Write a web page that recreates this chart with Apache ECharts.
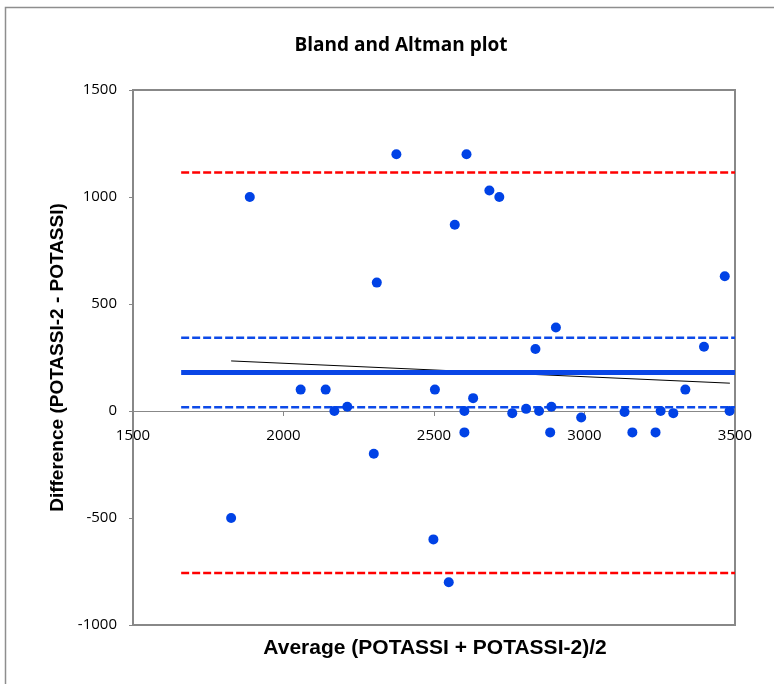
<!DOCTYPE html>
<html>
<head>
<meta charset="utf-8">
<script src="https://cdn.jsdelivr.net/npm/echarts@6/dist/echarts.min.js"></script>
<style>
  html, body { margin: 0; padding: 0; background: #ffffff; }
  #chart { width: 774px; height: 684px; }
</style>
</head>
<body>
<div id="chart"></div>
<script>
// Bland–Altman agreement between POTASSI and POTASSI-2
const averages = [1826, 1888, 2057, 2140, 2169, 2212, 2300, 2310, 2375, 2498, 2503, 2549,
                  2569, 2601, 2601, 2608, 2630, 2684, 2717, 2760, 2806, 2837, 2849, 2886,
                  2890, 2905, 2989, 3133, 3159, 3236, 3253, 3295, 3335, 3397, 3466, 3482];
const differences = [-500, 1000, 100, 100, 0, 20, -200, 600, 1200, -600, 100, -800,
                     870, 0, -100, 1200, 60, 1030, 1000, -10, 10, 290, 0, -100,
                     20, 390, -30, -5, -100, -100, 0, -10, 100, 300, 630, 0];

// Summary lines (x extent, then y level)
const refSpan = [1660, 3500];
const meanDiff = 180;
const meanCI = [17, 342];
const limitsOfAgreement = [-757, 1115];
// Trend of difference against average
const trendX = [1826, 3483];
const trendY = [234, 130];

const xTicks = { min: 1500, max: 3500, step: 500 };
const yTicks = { min: -1000, max: 1500, step: 500 };

const points = averages.map((a, i) => [a, differences[i]]);
const hLine = (y) => [[refSpan[0], y], [refSpan[1], y]];

const tickFont = '"Open Sans", sans-serif';
const nameFont = '"Liberation Sans", Arial, sans-serif';
const axisGrey = '#888888';

const gridTop = 90, gridHeight = 535;
// The horizontal axis sits on the y = 0 level inside the plot
const zeroOffset = -gridHeight * (0 - yTicks.min) / (yTicks.max - yTicks.min);

const chart = echarts.init(document.getElementById('chart'), null, { renderer: 'canvas' });

const dashed = (color) => ({ color: color, width: 2.5, type: [8, 3] });
const plain = (v) => String(v);

chart.setOption({
  animation: false,
  backgroundColor: '#ffffff',
  title: {
    text: 'Bland and Altman plot',
    left: 396,
    top: 31,
    textAlign: 'center',
    textStyle: { fontFamily: '"Open Sans", sans-serif', fontWeight: 'bold', fontSize: 19, color: '#000000' }
  },
  graphic: [
    {
      type: 'rect',
      shape: { x: 5.5, y: 7.5, width: 900, height: 900 },
      style: { fill: 'none', stroke: '#8e8e8e', lineWidth: 1.5 },
      silent: true
    },
    {
      type: 'text',
      style: {
        text: 'Average (POTASSI + POTASSI-2)/2',
        x: 435, y: 648,
        textAlign: 'center', textVerticalAlign: 'middle',
        font: 'bold 21px ' + nameFont,
        fill: '#000000'
      }
    }
  ],
  grid: {
    left: 133, top: gridTop, width: 602, height: gridHeight,
    show: true, borderColor: axisGrey, borderWidth: 2, backgroundColor: 'transparent'
  },
  xAxis: {
    type: 'value',
    position: 'bottom',
    offset: zeroOffset,
    min: xTicks.min, max: xTicks.max, interval: xTicks.step,
    axisLine: { onZero: false, lineStyle: { color: axisGrey, width: 1 } },
    axisTick: { show: true, length: 5, lineStyle: { color: axisGrey } },
    axisLabel: { margin: 17, fontFamily: tickFont, fontSize: 15, color: '#000000', formatter: plain },
    splitLine: { show: false }
  },
  yAxis: {
    type: 'value',
    min: yTicks.min, max: yTicks.max, interval: yTicks.step,
    name: 'Difference (POTASSI-2 - POTASSI)',
    nameLocation: 'middle',
    nameGap: 66,
    nameTextStyle: { fontFamily: nameFont, fontWeight: 'bold', fontSize: 19, color: '#000000' },
    axisLine: { show: true, lineStyle: { color: axisGrey, width: 2 } },
    axisTick: { show: true, length: 4, lineStyle: { color: axisGrey } },
    axisLabel: { margin: 16, fontFamily: tickFont, fontSize: 15, color: '#000000', formatter: plain },
    splitLine: { show: false }
  },
  series: [
    {
      type: 'line', data: hLine(limitsOfAgreement[1]), symbol: 'none',
      lineStyle: dashed('#ff0000'), z: 2
    },
    {
      type: 'line', data: hLine(limitsOfAgreement[0]), symbol: 'none',
      lineStyle: dashed('#ff0000'), z: 2
    },
    {
      type: 'line', data: hLine(meanCI[1]), symbol: 'none',
      lineStyle: dashed('#0d4ae8'), z: 2
    },
    {
      type: 'line', data: hLine(meanCI[0]), symbol: 'none',
      lineStyle: dashed('#0d4ae8'), z: 2
    },
    {
      type: 'line', data: [[trendX[0], trendY[0]], [trendX[1], trendY[1]]], symbol: 'none',
      lineStyle: { color: '#000000', width: 1 }, z: 3
    },
    {
      type: 'line', data: hLine(meanDiff), symbol: 'none',
      lineStyle: { color: '#0a46e6', width: 5 }, z: 4
    },
    {
      type: 'scatter', data: points, symbol: 'circle', symbolSize: 10,
      itemStyle: { color: '#0042e6', opacity: 1 }, z: 5
    }
  ]
});
</script>
</body>
</html>
